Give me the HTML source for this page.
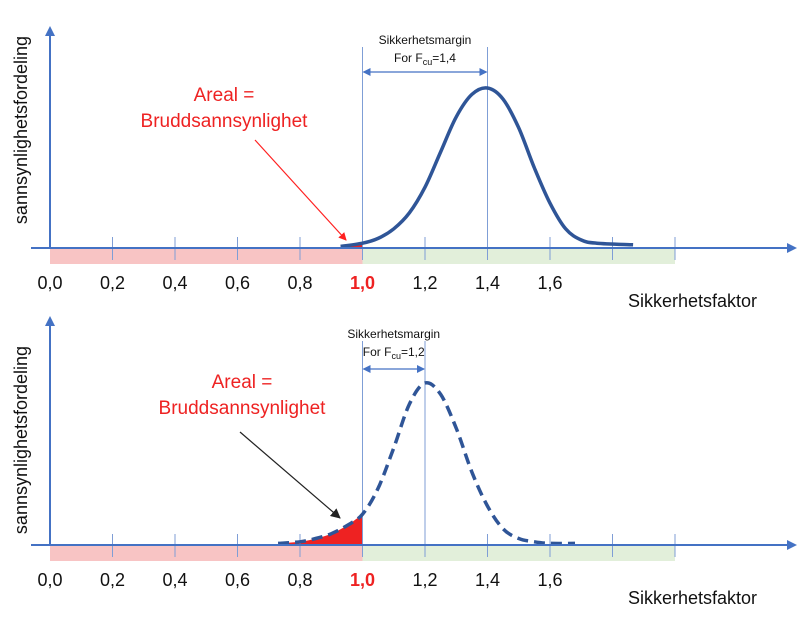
<!DOCTYPE html>
<html><head><meta charset="utf-8"><style>
html,body{margin:0;padding:0;background:#fff}
svg{display:block;font-family:"Liberation Sans",sans-serif}
</style></head><body>
<svg id="c" width="800" height="633" viewBox="0 0 800 633" xmlns="http://www.w3.org/2000/svg">
<defs>
<marker id="ab" markerUnits="userSpaceOnUse" markerWidth="10" markerHeight="10" refX="8" refY="5" orient="auto"><path d="M0,0 L10,5 L0,10 z" fill="#4472c4"/></marker>
<marker id="ar" markerUnits="userSpaceOnUse" markerWidth="8" markerHeight="8" refX="7" refY="4" orient="auto"><path d="M0,0 L8,4 L0,8 z" fill="#ff2020"/></marker>
<marker id="ak" markerUnits="userSpaceOnUse" markerWidth="10" markerHeight="10" refX="9" refY="5" orient="auto"><path d="M0,0 L10,5 L0,10 z" fill="#222"/></marker>
<marker id="as" markerUnits="userSpaceOnUse" markerWidth="8" markerHeight="8" refX="7" refY="4" orient="auto-start-reverse"><path d="M0,0 L8,4 L0,8 z" fill="#4472c4"/></marker>
</defs>
</svg>
<script>
const tickLabels=["0,0","0,2","0,4","0,6","0,8","1,0","1,2","1,4","1,6"];
const tickValues=[0,0.2,0.4,0.6,0.8,1.0,1.2,1.4,1.6,1.8,2.0];
const topX=[0.93,1.0,1.05,1.1,1.15,1.2,1.25,1.3,1.35,1.4,1.45,1.5,1.55,1.6,1.65,1.7,1.75,1.866];
const topY=[0.01,0.03,0.06,0.12,0.22,0.38,0.6,0.82,0.96,1.0,0.93,0.75,0.5,0.28,0.12,0.05,0.03,0.02];
const botX=[0.73,0.8,0.85,0.9,0.95,1.0,1.05,1.1,1.15,1.2,1.25,1.3,1.35,1.4,1.45,1.5,1.55,1.6,1.68];
const botY=[0.01,0.02,0.04,0.07,0.12,0.19,0.35,0.6,0.87,1.0,0.93,0.72,0.45,0.24,0.1,0.04,0.02,0.01,0.01];
const failLimit=1.0;
const topMean=1.4, botMean=1.2;

const svg=document.getElementById('c');
const NS="http://www.w3.org/2000/svg";
function mk(tag,attrs,parent){const e=document.createElementNS(NS,tag);for(const k in attrs)e.setAttribute(k,attrs[k]);(parent||svg).appendChild(e);return e;}
const xs=v=>50+v*312.5;
function smooth(pts){
  let d='M'+pts[0][0].toFixed(1)+','+pts[0][1].toFixed(1);
  for(let i=0;i<pts.length-1;i++){
    const p0=pts[i-1]||pts[i],p1=pts[i],p2=pts[i+1],p3=pts[i+2]||p2;
    const c1=[p1[0]+(p2[0]-p0[0])/6,p1[1]+(p2[1]-p0[1])/6];
    const c2=[p2[0]-(p3[0]-p1[0])/6,p2[1]-(p3[1]-p1[1])/6];
    d+=' C'+c1[0].toFixed(1)+','+c1[1].toFixed(1)+' '+c2[0].toFixed(1)+','+c2[1].toFixed(1)+' '+p2[0].toFixed(1)+','+p2[1].toFixed(1);
  }
  return d;
}

function panel(p){
  const g=mk('g',{});
  
  
  const ys=h=>p.axisY-h*p.peakH;
  const b1=mk('rect',{x:xs(0),y:p.axisY+1,width:xs(failLimit)-xs(0),height:15,fill:'#f8c4c4'},g);
  
  
  const b2=mk('rect',{x:xs(failLimit),y:p.axisY+1,width:xs(2.0)-xs(failLimit),height:15,fill:'#e2efda'},g);
  
  
  const fp=[];
  for(let i=0;i<p.xs.length;i++){if(p.xs[i]<=failLimit)fp.push([xs(p.xs[i]),ys(p.ys[i])]);}
  let d=smooth(fp).replace(/^M/,'M'+fp[0][0]+','+p.axisY+' L')+' L'+xs(failLimit)+','+p.axisY+' Z';
  const fa=mk('path',{d:d,fill:'#ee2222'},g);
  
  
  tickValues.forEach(v=>{if(v===0)return;const t=mk('line',{x1:xs(v),x2:xs(v),y1:p.axisY-11,y2:p.axisY+12,stroke:'#7f9ed6','stroke-width':1},g);
    
    });
  tickLabels.forEach((s,i)=>{const red=s==="1,0";const t=mk('text',{x:xs(tickValues[i]),y:p.axisY+41,'text-anchor':'middle','font-size':18,fill:red?'#ee2222':'#111','font-weight':red?'bold':'normal'},g);t.textContent=s;
    
    });
  [failLimit,p.mean].forEach(v=>{const l=mk('line',{x1:xs(v),x2:xs(v),y1:p.mTop,y2:p.axisY,stroke:'#7f9ed6','stroke-width':1},g);
    
    });
  const ma=mk('line',{x1:xs(failLimit)+1,x2:xs(p.mean)-1,y1:p.mArrowY,y2:p.mArrowY,stroke:'#4472c4','stroke-width':1.3,'marker-start':'url(#as)','marker-end':'url(#as)'},g);
  
  
  const cx=(xs(failLimit)+xs(p.mean))/2;
  const t1=mk('text',{x:cx,y:p.mTop-3,'text-anchor':'middle','font-size':12,fill:'#111'},g);t1.textContent='Sikkerhetsmargin';
  
  
  const t2=mk('text',{x:cx,y:p.mTop+15,'text-anchor':'middle','font-size':12,fill:'#111'},g);
  t2.innerHTML='For F<tspan font-size="9" dy="3">cu</tspan><tspan dy="-3">='+p.label+'</tspan>';
  
  
  const pts=p.xs.map((x,i)=>[xs(x),ys(p.ys[i])]);
  const cv=mk('path',{d:smooth(pts),fill:'none',stroke:'#2f5597','stroke-width':3.5,'stroke-linejoin':'round','stroke-dasharray':p.dash||'none'},g);
  
  
  const xa=mk('line',{x1:31,x2:795,y1:p.axisY,y2:p.axisY,stroke:'#4472c4','stroke-width':2,'marker-end':'url(#ab)'},g);
  
  
  const ya=mk('line',{x1:50,x2:50,y1:p.axisY,y2:p.yTop,stroke:'#4472c4','stroke-width':2,'marker-end':'url(#ab)'},g);
  
  
  const xt=mk('text',{x:628,y:p.axisY+59,'font-size':18,fill:'#111'},g);xt.textContent='Sikkerhetsfaktor';
  
  
  const yt=mk('text',{x:0,y:0,'font-size':18,fill:'#111','text-anchor':'middle',transform:'translate(27,'+p.yLabelC+') rotate(-90)'},g);yt.textContent='sannsynlighetsfordeling';
  
  
  const a1=mk('text',{x:p.annX,y:p.annY,'text-anchor':'middle','font-size':19,fill:'#ee2222'},g);a1.textContent='Areal =';
  
  
  const a2=mk('text',{x:p.annX,y:p.annY+26,'text-anchor':'middle','font-size':19,fill:'#ee2222'},g);a2.textContent='Bruddsannsynlighet';
  
  
  const ar=mk('line',{x1:p.arr[0],y1:p.arr[1],x2:p.arr[2],y2:p.arr[3],stroke:p.arrC,'stroke-width':1.2,'marker-end':p.arrM},g);
  
  
}
panel({name:'top-panel',axisY:248,peakH:160,xs:topX,ys:topY,mean:topMean,label:'1,4',mTop:47,mArrowY:72,yTop:28,yLabelC:130,annX:224,annY:101,arr:[255,140,346,240],arrC:'#ff2020',arrM:'url(#ar)'});
panel({name:'bottom-panel',axisY:545,peakH:162,xs:botX,ys:botY,mean:botMean,label:'1,2',mTop:341,mArrowY:369,yTop:318,yLabelC:440,annX:242,annY:388,arr:[240,432,340,518],arrC:'#222',arrM:'url(#ak)',dash:'11,6'});
</script>
</body></html>
